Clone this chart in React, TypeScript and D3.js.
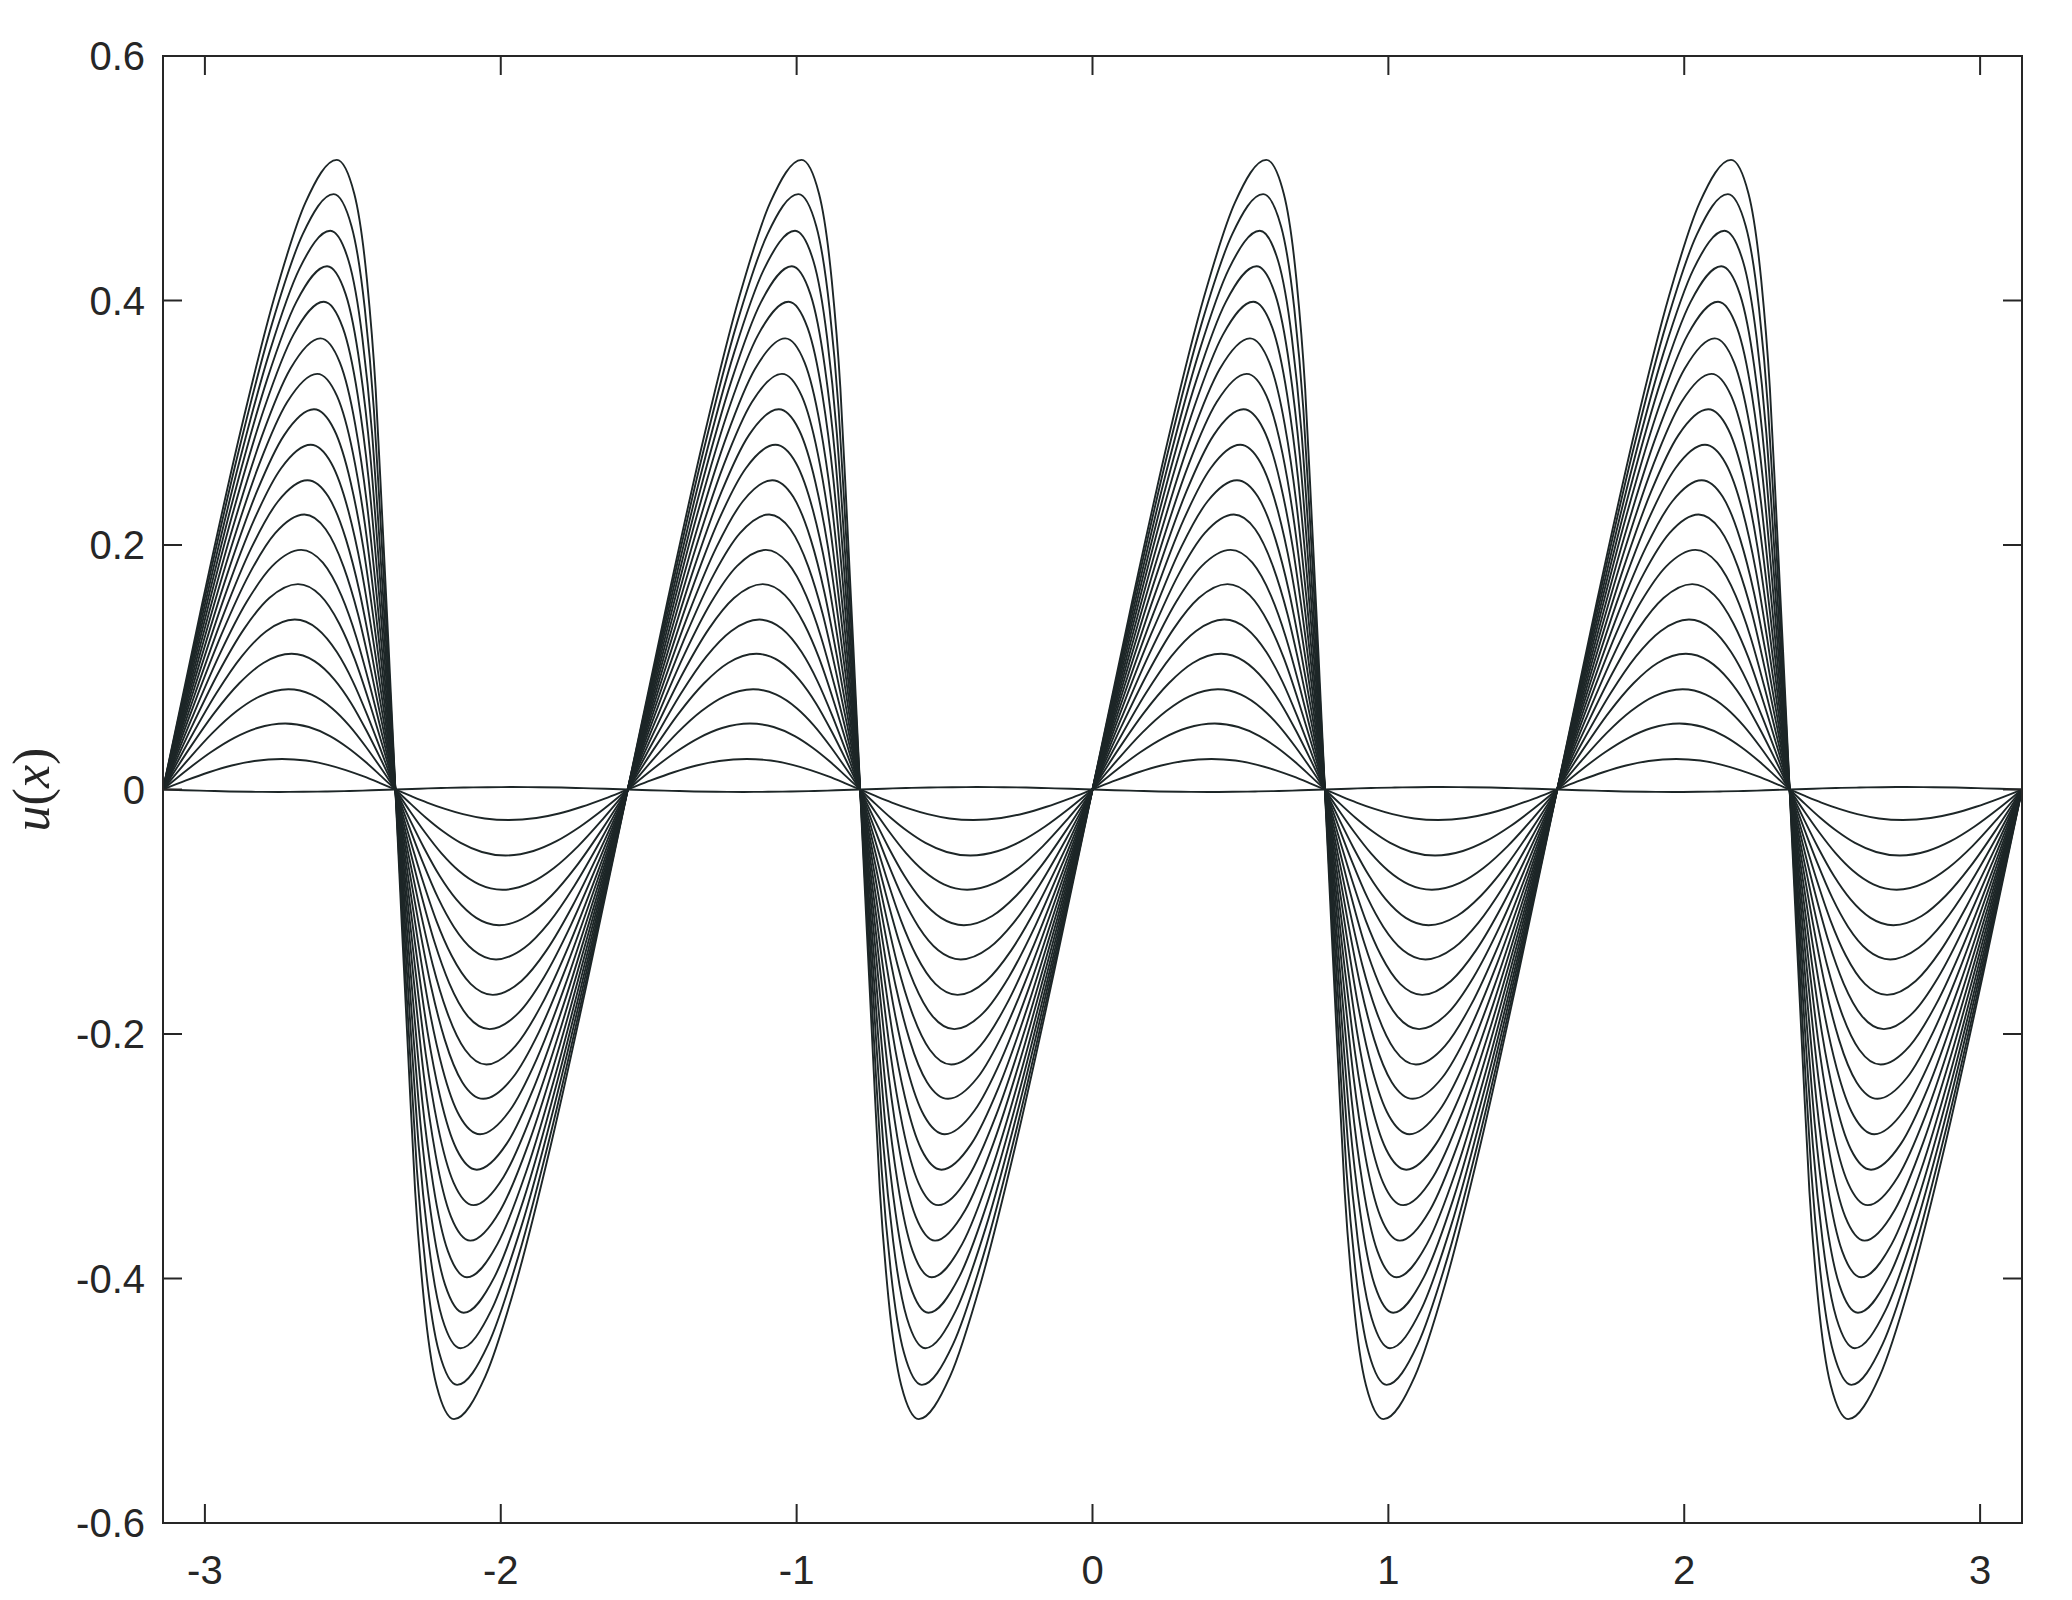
import React from "react";
import * as d3 from "d3";

// ---- data ----
// One positive lobe (between consecutive zeros at multiples of pi/4) per curve;
// offsets (in x units from the lobe start) and values u(x). The negative lobe is
// the point reflection about the zero crossing, and the pattern repeats every pi/2.
const LOBE_OFFSETS: number[][] = [
  [0.1325, 0.2599, 0.3775, 0.4814, 0.5874, 0.6465, 0.6895, 0.7186, 0.7415, 0.7633],
  [0.1294, 0.2539, 0.3692, 0.4716, 0.5768, 0.6372, 0.6819, 0.7128, 0.7379, 0.7615],
  [0.1260, 0.2475, 0.3603, 0.4610, 0.5654, 0.6272, 0.6738, 0.7066, 0.7340, 0.7595],
  [0.1228, 0.2413, 0.3517, 0.4508, 0.5545, 0.6176, 0.6659, 0.7007, 0.7303, 0.7576],
  [0.1196, 0.2351, 0.3431, 0.4406, 0.5435, 0.6079, 0.6580, 0.6947, 0.7265, 0.7558],
  [0.1162, 0.2287, 0.3343, 0.4300, 0.5322, 0.5979, 0.6499, 0.6885, 0.7226, 0.7538],
  [0.1130, 0.2226, 0.3257, 0.4198, 0.5212, 0.5883, 0.6421, 0.6825, 0.7189, 0.7520],
  [0.1097, 0.2164, 0.3171, 0.4096, 0.5103, 0.5786, 0.6342, 0.6766, 0.7152, 0.7501],
  [0.1065, 0.2102, 0.3085, 0.3993, 0.4993, 0.5689, 0.6264, 0.6706, 0.7114, 0.7482],
  [0.1033, 0.2040, 0.2999, 0.3891, 0.4883, 0.5593, 0.6185, 0.6646, 0.7077, 0.7463],
  [0.1001, 0.1980, 0.2916, 0.3793, 0.4778, 0.5499, 0.6109, 0.6589, 0.7040, 0.7445],
  [0.0969, 0.1918, 0.2830, 0.3691, 0.4668, 0.5403, 0.6031, 0.6529, 0.7003, 0.7427],
  [0.0938, 0.1859, 0.2747, 0.3592, 0.4562, 0.5310, 0.5955, 0.6471, 0.6967, 0.7409],
  [0.0905, 0.1797, 0.2662, 0.3490, 0.4452, 0.5213, 0.5876, 0.6411, 0.6929, 0.7390],
  [0.0874, 0.1737, 0.2579, 0.3391, 0.4347, 0.5120, 0.5801, 0.6354, 0.6893, 0.7372],
  [0.0842, 0.1675, 0.2493, 0.3289, 0.4237, 0.5023, 0.5722, 0.6294, 0.6856, 0.7353],
  [0.0810, 0.1615, 0.2410, 0.3190, 0.4131, 0.4930, 0.5646, 0.6236, 0.6820, 0.7335],
  [0.0778, 0.1553, 0.2324, 0.3088, 0.4022, 0.4833, 0.5568, 0.6177, 0.6782, 0.7316],
  [0.0749, 0.1496, 0.2244, 0.2993, 0.3919, 0.4743, 0.5495, 0.6119, 0.6747, 0.7299],
];

const LOBE_VALUES: number[][] = [
  [0.1522, 0.2908, 0.4034, 0.4800, 0.5150, 0.4873, 0.4164, 0.3285, 0.2201, 0.1128],
  [0.1439, 0.2750, 0.3815, 0.4539, 0.4870, 0.4608, 0.3937, 0.3106, 0.2081, 0.1067],
  [0.1350, 0.2580, 0.3580, 0.4259, 0.4570, 0.4325, 0.3695, 0.2915, 0.1953, 0.1001],
  [0.1265, 0.2416, 0.3353, 0.3989, 0.4280, 0.4050, 0.3460, 0.2730, 0.1829, 0.0937],
  [0.1179, 0.2253, 0.3125, 0.3719, 0.3990, 0.3776, 0.3226, 0.2545, 0.1705, 0.0874],
  [0.1090, 0.2083, 0.2890, 0.3439, 0.3690, 0.3492, 0.2983, 0.2353, 0.1577, 0.0808],
  [0.1005, 0.1920, 0.2663, 0.3169, 0.3400, 0.3217, 0.2749, 0.2169, 0.1453, 0.0745],
  [0.0919, 0.1756, 0.2436, 0.2899, 0.3110, 0.2943, 0.2514, 0.1984, 0.1329, 0.0681],
  [0.0833, 0.1592, 0.2209, 0.2628, 0.2820, 0.2669, 0.2280, 0.1799, 0.1205, 0.0618],
  [0.0748, 0.1428, 0.1982, 0.2358, 0.2530, 0.2394, 0.2046, 0.1614, 0.1081, 0.0554],
  [0.0665, 0.1270, 0.1762, 0.2097, 0.2250, 0.2129, 0.1819, 0.1435, 0.0962, 0.0493],
  [0.0579, 0.1107, 0.1535, 0.1827, 0.1960, 0.1855, 0.1585, 0.1250, 0.0838, 0.0429],
  [0.0496, 0.0949, 0.1316, 0.1566, 0.1680, 0.1590, 0.1358, 0.1072, 0.0718, 0.0368],
  [0.0411, 0.0785, 0.1089, 0.1295, 0.1390, 0.1315, 0.1124, 0.0887, 0.0594, 0.0304],
  [0.0328, 0.0627, 0.0869, 0.1035, 0.1110, 0.1050, 0.0897, 0.0708, 0.0474, 0.0243],
  [0.0242, 0.0463, 0.0642, 0.0764, 0.0820, 0.0776, 0.0663, 0.0523, 0.0350, 0.0180],
  [0.0160, 0.0305, 0.0423, 0.0503, 0.0540, 0.0511, 0.0437, 0.0344, 0.0231, 0.0118],
  [0.0074, 0.0141, 0.0196, 0.0233, 0.0250, 0.0237, 0.0202, 0.0159, 0.0107, 0.0055],
  [-0.0006, -0.0011, -0.0016, -0.0019, -0.0020, -0.0019, -0.0016, -0.0013, -0.0009, -0.0004],
];

const X_TICKS = [-3, -2, -1, 0, 1, 2, 3];
const X_TICK_LABELS = ["-3", "-2", "-1", "0", "1", "2", "3"];
const Y_TICKS = [-0.6, -0.4, -0.2, 0, 0.2, 0.4, 0.6];
const Y_TICK_LABELS = ["-0.6", "-0.4", "-0.2", "0", "0.2", "0.4", "0.6"];
const N_PERIODS = 4;

// ---- layout ----
const W = 2072;
const H = 1600;
const LEFT = 163;
const RIGHT = 2022;
const TOP = 56;
const BOTTOM = 1523;
const TICK = 19;
const AXIS_COLOR = "#262626";
const LINE_COLOR = "#1d2627";
const FONT = "'Liberation Sans', Arial, Helvetica, sans-serif";

function buildCurve(offsets: number[], values: number[]): [number, number][] {
  const L = Math.PI / 4;
  const pts: [number, number][] = [];
  for (let k = 0; k < N_PERIODS; k++) {
    const x0 = -Math.PI + k * 2 * L;
    // positive lobe
    pts.push([x0, 0]);
    for (let j = 0; j < offsets.length; j++) pts.push([x0 + offsets[j], values[j]]);
    pts.push([x0 + L, 0]);
    // negative lobe (point reflection about x0 + L)
    for (let j = offsets.length - 1; j >= 0; j--)
      pts.push([x0 + 2 * L - offsets[j], -values[j]]);
  }
  pts.push([Math.PI, 0]);
  return pts;
}

export default function App() {
  const x = d3.scaleLinear().domain([-Math.PI, Math.PI]).range([LEFT, RIGHT]);
  const y = d3.scaleLinear().domain([-0.6, 0.6]).range([BOTTOM, TOP]);
  const line = d3
    .line<[number, number]>()
    .x((d) => x(d[0]))
    .y((d) => y(d[1]))
    .curve(d3.curveMonotoneX);

  const curves = LOBE_OFFSETS.map((offs, i) => buildCurve(offs, LOBE_VALUES[i]));

  return (
    <svg
      width={W}
      height={H}
      style={{ position: "absolute", left: 0, top: 0, background: "#fff" }}
    >
      <rect x={0} y={0} width={W} height={H} fill="#fff" />
      <g>
        {curves.map((c, i) => (
          <path
            key={i}
            d={line(c) || ""}
            fill="none"
            stroke={LINE_COLOR}
            strokeWidth={1.9}
            strokeLinejoin="round"
          />
        ))}
      </g>
      {/* axes box */}
      <rect
        x={LEFT}
        y={TOP}
        width={RIGHT - LEFT}
        height={BOTTOM - TOP}
        fill="none"
        stroke={AXIS_COLOR}
        strokeWidth={2}
      />
      {/* x ticks */}
      {X_TICKS.map((t, i) => (
        <g key={"xt" + i}>
          <line x1={x(t)} x2={x(t)} y1={BOTTOM} y2={BOTTOM - TICK} stroke={AXIS_COLOR} strokeWidth={2} />
          <line x1={x(t)} x2={x(t)} y1={TOP} y2={TOP + TICK} stroke={AXIS_COLOR} strokeWidth={2} />
          <text
            x={x(t)}
            y={BOTTOM + 61}
            textAnchor="middle"
            fontFamily={FONT}
            fontSize={40}
            fill={AXIS_COLOR}
          >
            {X_TICK_LABELS[i]}
          </text>
        </g>
      ))}
      {/* y ticks */}
      {Y_TICKS.map((t, i) => (
        <g key={"yt" + i}>
          <line x1={LEFT} x2={LEFT + TICK} y1={y(t)} y2={y(t)} stroke={AXIS_COLOR} strokeWidth={2} />
          <line x1={RIGHT} x2={RIGHT - TICK} y1={y(t)} y2={y(t)} stroke={AXIS_COLOR} strokeWidth={2} />
          <text
            x={LEFT - 18}
            y={y(t) + 14}
            textAnchor="end"
            fontFamily={FONT}
            fontSize={40}
            fill={AXIS_COLOR}
          >
            {Y_TICK_LABELS[i]}
          </text>
        </g>
      ))}
      {/* y label */}
      <text
        transform={`translate(49, ${y(0)}) rotate(-90)`}
        textAnchor="middle"
        fontFamily="'Liberation Serif', 'Times New Roman', serif"
        fontSize={52}
        fill={AXIS_COLOR}
      >
        <tspan fontStyle="italic">u</tspan>
        <tspan>(</tspan>
        <tspan fontStyle="italic">x</tspan>
        <tspan>)</tspan>
      </text>
    </svg>
  );
}
